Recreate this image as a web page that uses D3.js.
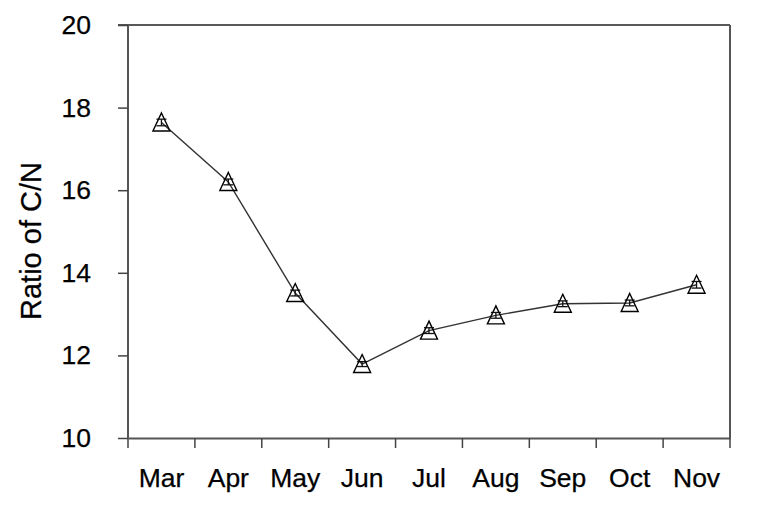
<!DOCTYPE html>
<html>
<head>
<meta charset="utf-8">
<script src="https://cdn.jsdelivr.net/npm/d3@7.9.0/dist/d3.min.js"></script>
<style>
  body { margin: 0; background: #fff; }
  svg text { font-family: "Liberation Sans", Arial, sans-serif; fill: #000; }
</style>
</head>
<body>
<svg id="chart" width="760" height="505"></svg>
<script>
// data
const months = ['Mar', 'Apr', 'May', 'Jun', 'Jul', 'Aug', 'Sep', 'Oct', 'Nov'];
const ratioCN = [17.64, 16.20, 13.51, 11.79, 12.60, 12.97, 13.25, 13.27, 13.71];
const ratioErr = [0.08, 0.07, 0.07, 0.06, 0.07, 0.07, 0.07, 0.07, 0.08];
const yTicks = [10, 12, 14, 16, 18, 20];

const svg = d3.select('#chart');
const margin = { left: 128, right: 30, top: 25, bottom: 67 };
const W = 760, H = 505;

const x = d3.scaleBand().domain(months).range([margin.left, W - margin.right]);
const y = d3.scaleLinear().domain([10, 20]).range([H - margin.bottom, margin.top]);

// frame (top + right)
svg.append('line')
    .attr('x1', margin.left).attr('x2', W - margin.right)
    .attr('y1', margin.top).attr('y2', margin.top)
    .attr('stroke', '#222').attr('stroke-width', 1.5);
svg.append('line')
    .attr('x1', W - margin.right).attr('x2', W - margin.right)
    .attr('y1', margin.top).attr('y2', H - margin.bottom)
    .attr('stroke', '#555').attr('stroke-width', 2);

// y axis
const yAxis = svg.append('g')
    .attr('transform', `translate(${margin.left},0)`)
    .call(d3.axisLeft(y).tickValues(yTicks).tickSize(10).tickPadding(27));

// x axis, ticks on band edges
const xAxis = svg.append('g')
    .attr('transform', `translate(0,${H - margin.bottom})`)
    .call(d3.axisBottom(x).tickSize(0).tickPadding(30));
xAxis.selectAll('.edge')
    .data(months.concat(['end']))
    .enter()
    .append('line')
    .attr('class', 'edge')
    .attr('x1', (d, i) => margin.left + i * x.step())
    .attr('x2', (d, i) => margin.left + i * x.step())
    .attr('y1', 0).attr('y2', 10)
    .attr('stroke', '#444').attr('stroke-width', 1.5);

[yAxis, xAxis].forEach(g => {
    g.select('.domain').attr('stroke', '#555').attr('stroke-width', 2);
    g.selectAll('.tick line').attr('stroke', '#444').attr('stroke-width', 1.5);
    g.selectAll('text')
        .style('font-size', '26.5px')
        .attr('fill', '#000')
        .attr('stroke', '#000').attr('stroke-width', 0.25);
});
yAxis.select('.domain').attr('d', `M-10,${y(20)}H0V${y(10)}`);

// y label
svg.append('text')
    .attr('transform', `translate(41,241) rotate(-90)`)
    .attr('text-anchor', 'middle')
    .style('font-size', '29px')
    .attr('stroke', '#000').attr('stroke-width', 0.25)
    .text('Ratio of C/N');

const cx = d => x(d) + x.bandwidth() / 2;

// line
svg.append('path')
    .datum(months)
    .attr('fill', 'none')
    .attr('stroke', '#333')
    .attr('stroke-width', 1.4)
    .attr('d', d3.line().x(d => cx(d)).y((d, i) => y(ratioCN[i])));

// error bars
const eb = svg.append('g').attr('stroke', '#111').attr('stroke-width', 1.3);
months.forEach((m, i) => {
    const hi = y(ratioCN[i] + ratioErr[i]), lo = y(ratioCN[i] - ratioErr[i]);
    eb.append('line').attr('x1', cx(m)).attr('x2', cx(m)).attr('y1', hi).attr('y2', lo);
    eb.append('line').attr('x1', cx(m) - 5).attr('x2', cx(m) + 5).attr('y1', hi).attr('y2', hi);
    eb.append('line').attr('x1', cx(m) - 5).attr('x2', cx(m) + 5).attr('y1', lo).attr('y2', lo);
});

// open triangles
svg.selectAll('.tri')
    .data(months)
    .enter()
    .append('path')
    .attr('class', 'tri')
    .attr('transform', (d, i) => `translate(${cx(d)},${y(ratioCN[i])})`)
    .attr('d', 'M0,-9.5L8.5,8.5L-8.5,8.5Z')
    .attr('fill', 'none')
    .attr('stroke', '#000')
    .attr('stroke-width', 1.4);
</script>
</body>
</html>
